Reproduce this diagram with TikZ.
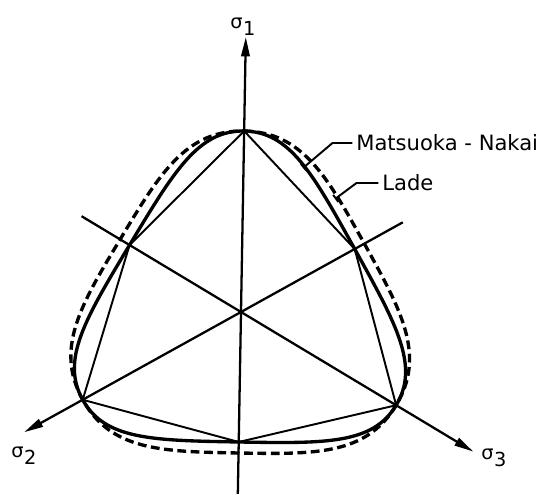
\documentclass[tikz,border=0pt]{standalone}
\usepackage{fontspec}
\setmainfont{DejaVu Sans}
\usetikzlibrary{arrows.meta,calc}
\newcommand{\sgm}[1]{σ\kern0.3pt\raisebox{-4pt}{#1}}
\begin{document}
\begin{tikzpicture}[x=0.02cm,y=-0.02cm,
  axisline/.style={line width=1.3pt},
  axtip/.style={-{Triangle[length=11pt,width=4.8pt]}},
  hexline/.style={line width=1.1pt},
  mncurve/.style={line width=1.9pt, line cap=round},
  ladecurve/.style={line width=1.9pt, dash pattern=on 5pt off 2.6pt},
  leader/.style={line width=1.1pt},
  lbl/.style={inner sep=0pt, font=\fontsize{12}{14}\selectfont},
  slbl/.style={inner sep=0pt, anchor=base west, font=\fontsize{11}{13}\selectfont}
]
\useasboundingbox (0,0) rectangle (548,494);
\begin{scope}[shift={(241,312)}, yscale=-1, rotate=1]
  \coordinate (O) at (0,0);
  % compression points
  \coordinate (C1) at (90:181);
  \coordinate (C2) at (210:181);
  \coordinate (C3) at (330:181);
  % extension points (Matsuoka-Nakai / Mohr-Coulomb)
  \coordinate (E1) at (30:130);
  \coordinate (E2) at (150:130);
  \coordinate (E3) at (270:130);
  % extension points (Lade)
  \coordinate (L1) at (30:141);
  \coordinate (L2) at (150:141);
  \coordinate (L3) at (270:141);
  % axis ends
  \coordinate (A1s) at (270:182);
  \coordinate (A1e) at (90:275);
  \coordinate (A2s) at (30:185);
  \coordinate (A2e) at (210:248);
  \coordinate (A3s) at (150:186);
  \coordinate (A3e) at (-30:271);

  \draw[axisline, axtip] (A1s) -- (A1e);
  \draw[axisline, axtip] (A2s) -- (A2e);
  \draw[axisline, axtip] (A3s) -- (A3e);

  \draw[hexline] (C1) -- (E2) -- (C2) -- (E3) -- (C3) -- (E1) -- cycle;

  \draw[mncurve] (C1) .. controls +(0:45.6) and +(120:87) .. (E1)
    .. controls +(-60:87) and +(60:45.6) .. (C3)
    .. controls +(-120:45.6) and +(0:87) .. (E3)
    .. controls +(180:87) and +(-60:45.6) .. (C2)
    .. controls +(120:45.6) and +(-120:87) .. (E2)
    .. controls +(60:87) and +(180:45.6) .. (C1);

  \draw[ladecurve] (C1) .. controls +(0:58.3) and +(120:76.6) .. (L1)
    .. controls +(-60:76.6) and +(60:58.3) .. (C3)
    .. controls +(-120:58.3) and +(0:76.6) .. (L3)
    .. controls +(180:76.6) and +(-60:58.3) .. (C2)
    .. controls +(120:58.3) and +(-120:76.6) .. (L2)
    .. controls +(60:76.6) and +(180:58.3) .. (C1);
\end{scope}

% axis labels
\node[slbl] (s1) at (230,28) {\sgm{1}};
\node[slbl] (s2) at (11,457) {\sgm{2}};
\node[slbl] (s3) at (481,459) {\sgm{3}};

% curve labels with leaders
\node[lbl, anchor=west] (mn) at (356,143) {Matsuoka - Nakai};
\node[lbl, anchor=west] (ld) at (382,183) {Lade};
\coordinate (mnE) at (303,168);
\coordinate (ldE) at (335,199);
\draw[leader, -{Bar[width=5pt]}] ([xshift=-2pt]mn.west) -- ++(-20,0) -- (mnE);
\draw[leader, -{Bar[width=5pt]}] ([xshift=-2pt]ld.west) -- ++(-22,0) -- (ldE);
\end{tikzpicture}
\end{document}
